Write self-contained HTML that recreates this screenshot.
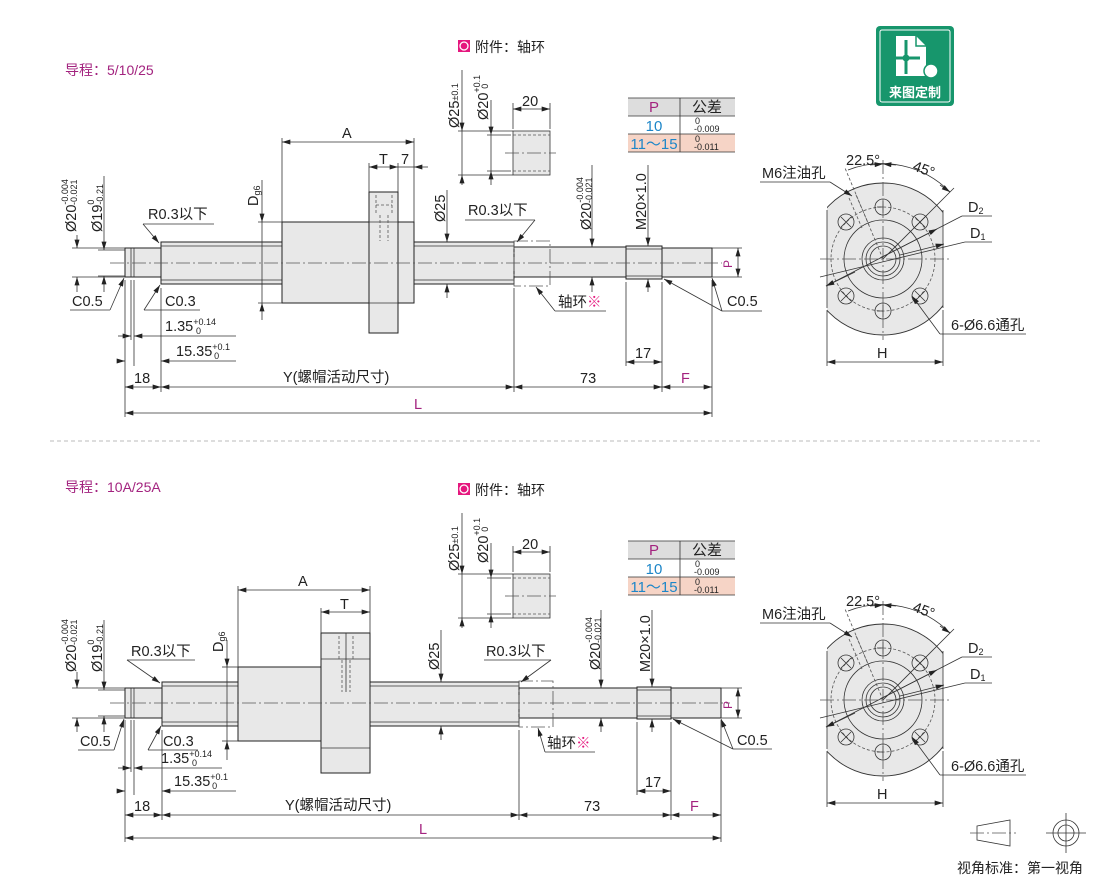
<!DOCTYPE html>
<html><head><meta charset="utf-8"><style>
html,body{margin:0;padding:0;background:#fff;}
svg{display:block;font-family:"Liberation Sans","Noto Sans CJK SC",sans-serif;}
.l{stroke:#333;stroke-width:0.8;fill:none}
.t{stroke:#222;stroke-width:1;fill:#e8e8e8}
.c{stroke:#555;stroke-width:0.8;fill:none;stroke-dasharray:14 3 2 3}
.d{stroke:#555;stroke-width:0.8;fill:none;stroke-dasharray:3 2}
text{font-size:14.5px;fill:#222}
.s{font-size:9px}
.pk{fill:#a3237f}
.bl{fill:#1d86c8}
</style></head><body>
<svg width="1110" height="880" viewBox="0 0 1110 880" xmlns="http://www.w3.org/2000/svg">
<defs>
<marker id="a" viewBox="0 0 10 6" refX="10" refY="3" markerWidth="9" markerHeight="5" orient="auto-start-reverse" markerUnits="userSpaceOnUse"><path d="M0,0L10,3L0,6z" fill="#222"/></marker>
</defs>

<text x="65" y="75" class="pk" style="font-size:14px">导程：5/10/25</text>
<text x="65" y="492" class="pk" style="font-size:14px">导程：10A/25A</text>
<line x1="50" y1="441" x2="1040" y2="441" stroke="#bbb" stroke-dasharray="4 3"/>

<rect x="876" y="26" width="78" height="80" rx="4" fill="#17966c"/>
<rect x="880" y="30" width="70" height="72" rx="2" fill="none" stroke="#fff" stroke-width="1"/>
<path d="M896,36 h20 l10,10 v30 h-30z" fill="#fff"/>
<path d="M916,36 v10 h10" fill="none" stroke="#17966c" stroke-width="1.5"/>
<line x1="906" y1="40" x2="906" y2="74" stroke="#17966c" stroke-width="3"/>
<line x1="896" y1="58" x2="920" y2="58" stroke="#17966c" stroke-width="3"/>
<circle cx="906" cy="58" r="3.5" fill="#17966c"/>
<circle cx="931" cy="71" r="7" fill="#fff" stroke="#17966c" stroke-width="1.5"/>
<text x="915" y="97" text-anchor="middle" style="font-size:13px;font-weight:bold;fill:#fff">来图定制</text>

<g id="acc">
<rect x="458" y="40" width="12" height="12" fill="#e5177e"/>
<circle cx="464" cy="46" r="4" fill="none" stroke="#fff" stroke-width="1.3"/>
<text x="475" y="52" style="font-size:14px">附件：轴环</text>
<rect x="513" y="131" width="37" height="44" fill="#e8e8e8" stroke="#333" stroke-width="0.8"/>
<line x1="513" y1="135" x2="550" y2="135" class="d"/><line x1="513" y1="171" x2="550" y2="171" class="d"/>
<line x1="505" y1="153" x2="556" y2="153" class="c"/>
<line x1="458" y1="131" x2="513" y2="131" class="l"/><line x1="458" y1="175" x2="513" y2="175" class="l"/>
<line x1="487" y1="135" x2="511" y2="135" class="l"/><line x1="487" y1="171" x2="511" y2="171" class="l"/>
<line x1="462" y1="70" x2="462" y2="131" class="l" marker-end="url(#a)"/><line x1="462" y1="185" x2="462" y2="175" class="l" marker-end="url(#a)"/><line x1="462" y1="131" x2="462" y2="175" class="l"/>
<line x1="491" y1="100" x2="491" y2="135" class="l" marker-end="url(#a)"/><line x1="491" y1="185" x2="491" y2="171" class="l" marker-end="url(#a)"/><line x1="491" y1="135" x2="491" y2="171" class="l"/>
<text transform="rotate(-90 459 128)" x="459" y="128">Ø25<tspan class="s" dy="-1">±0.1</tspan></text>
<text transform="rotate(-90 488 120)" x="488" y="120">Ø20<tspan class="s" dy="-8">+0.1</tspan><tspan class="s" dx="-14" dy="8">0</tspan></text>
<line x1="513" y1="103" x2="513" y2="129" class="l"/><line x1="550" y1="103" x2="550" y2="129" class="l"/>
<line x1="513" y1="109" x2="550" y2="109" class="l" marker-start="url(#a)" marker-end="url(#a)"/>
<text x="522" y="106">20</text>
<rect x="628" y="98" width="107" height="18" fill="#ddd"/>
<rect x="628" y="134" width="107" height="18" fill="#f6d4c6"/>
<line x1="628" y1="98" x2="735" y2="98" class="l"/><line x1="628" y1="116" x2="735" y2="116" class="l"/>
<line x1="628" y1="134" x2="735" y2="134" class="l"/><line x1="628" y1="152" x2="735" y2="152" class="l"/>
<line x1="680" y1="98" x2="680" y2="152" class="l"/>
<text x="654" y="112" text-anchor="middle" class="pk" style="font-size:15px">P</text>
<text x="707" y="112" text-anchor="middle" style="font-size:15px">公差</text>
<text x="654" y="131" text-anchor="middle" class="bl" style="font-size:15px">10</text>
<text x="654" y="149" text-anchor="middle" class="bl" style="font-size:15px">11～15</text>
<text x="695" y="124" class="s">0</text><text x="694" y="132" class="s">-0.009</text>
<text x="695" y="142" class="s">0</text><text x="694" y="150" class="s">-0.011</text>
</g>
<use href="#acc" transform="translate(0,443)"/>

<g id="fl">
<clipPath id="cp"><rect x="827" y="150" width="116" height="220"/></clipPath>
<circle cx="883" cy="259" r="76" fill="#e8e8e8" stroke="#333" stroke-width="0.9" clip-path="url(#cp)"/>
<line x1="827" y1="210" x2="827" y2="308" class="l"/><line x1="943" y1="210" x2="943" y2="308" class="l"/>
<circle cx="883" cy="259" r="52" class="d"/>
<circle cx="883" cy="259" r="39" class="l"/>
<circle cx="883" cy="259" r="21" class="l"/>
<circle cx="883" cy="259" r="17" class="l"/>
<circle cx="883" cy="259" r="13" class="l"/>
<g class="l">
<circle cx="883" cy="207" r="8"/><circle cx="883" cy="311" r="8"/>
<circle cx="846" cy="222" r="8"/><circle cx="920" cy="222" r="8"/>
<circle cx="846" cy="296" r="8"/><circle cx="920" cy="296" r="8"/>
<path d="M841,217l10,10M851,217l-10,10M915,217l10,10M925,217l-10,10M841,291l10,10M851,291l-10,10M915,291l10,10M925,291l-10,10"/>
<path d="M877,207h6M883,201v12M877,311h6M883,305v12"/>
</g>
<line x1="820" y1="259" x2="950" y2="259" class="c"/>
<line x1="883" y1="160" x2="883" y2="340" class="c"/>
<line x1="883" y1="259" x2="845" y2="168" class="d"/>
<line x1="849" y1="198" x2="862" y2="228" class="d"/><line x1="856" y1="195" x2="869" y2="225" class="d"/>
<line x1="883" y1="259" x2="954" y2="188" class="l"/>
<path d="M848,170 A95,95 0 0 1 950,192" class="l"/>
<line x1="870" y1="165" x2="883" y2="164" class="l" marker-end="url(#a)"/>
<line x1="896" y1="165" x2="883" y2="164" class="l" marker-end="url(#a)"/>
<line x1="940" y1="185" x2="950" y2="192" class="l" marker-end="url(#a)"/>
<text x="846" y="165">22.5°</text>
<text x="912" y="170" transform="rotate(20 912 170)">45°</text>
<text x="762" y="178">M6注油孔</text>
<line x1="760" y1="182" x2="830" y2="182" class="l"/>
<line x1="830" y1="182" x2="852" y2="196" class="l" marker-end="url(#a)"/>
<text x="968" y="212">D<tspan class="s" dy="2">2</tspan></text>
<line x1="962" y1="216" x2="992" y2="216" class="l"/>
<line x1="962" y1="216" x2="826" y2="286" class="l"/>
<line x1="880" y1="258" x2="937" y2="229" class="l" marker-end="url(#a)"/>
<line x1="855" y1="272" x2="826" y2="286" class="l" marker-end="url(#a)"/>
<text x="970" y="238">D<tspan class="s" dy="2">1</tspan></text>
<line x1="965" y1="242" x2="992" y2="242" class="l"/>
<line x1="965" y1="242" x2="820" y2="277" class="l"/>
<line x1="900" y1="255" x2="944" y2="244" class="l" marker-end="url(#a)"/>
<text x="951" y="330">6-Ø6.6通孔</text>
<line x1="940" y1="334" x2="1026" y2="334" class="l"/>
<line x1="940" y1="334" x2="912" y2="296" class="l" marker-end="url(#a)"/>
<line x1="827" y1="310" x2="827" y2="366" class="l"/><line x1="943" y1="310" x2="943" y2="366" class="l"/>
<line x1="827" y1="362" x2="943" y2="362" class="l" marker-start="url(#a)" marker-end="url(#a)"/>
<text x="877" y="358">H</text>
</g>
<use href="#fl" transform="translate(0,441)"/>

<g>
<rect x="125" y="248" width="36" height="29" class="t"/>
<line x1="131" y1="248" x2="131" y2="277" class="l"/><line x1="134" y1="248" x2="134" y2="277" class="l"/>
<rect x="161" y="242" width="353" height="42" class="t"/>
<line x1="161" y1="246" x2="514" y2="246" class="l"/><line x1="161" y1="280" x2="514" y2="280" class="l"/>
<rect x="282" y="222" width="132" height="81" class="t"/>
<rect x="369" y="192" width="29" height="141" class="t"/>
<line x1="369" y1="222" x2="398" y2="222" class="l"/><line x1="369" y1="303" x2="398" y2="303" class="l"/>
<path d="M376,195v20M392,195v20M380,215v26M388,215v26M376,205h16" class="d"/>
<rect x="514" y="247" width="112" height="30" class="t"/>
<rect x="514" y="241" width="36" height="45" class="c"/>
<rect x="626" y="246" width="36" height="33" class="t"/>
<line x1="626" y1="249" x2="662" y2="249" class="l"/><line x1="626" y1="276" x2="662" y2="276" class="l"/>
<rect x="662" y="248" width="50" height="29" class="t"/>
<line x1="110" y1="263" x2="722" y2="263" class="c"/>

<line x1="72" y1="248" x2="125" y2="248" class="l"/><line x1="72" y1="277" x2="125" y2="277" class="l"/>
<line x1="77" y1="235" x2="77" y2="248" class="l" marker-end="url(#a)"/><line x1="77" y1="292" x2="77" y2="277" class="l" marker-end="url(#a)"/>
<line x1="98" y1="250" x2="125" y2="250" class="l"/><line x1="98" y1="276" x2="125" y2="276" class="l"/>
<line x1="104" y1="176" x2="104" y2="250" class="l" marker-end="url(#a)"/><line x1="104" y1="292" x2="104" y2="276" class="l" marker-end="url(#a)"/>
<text transform="rotate(-90 76 232)" x="76" y="232">Ø20<tspan class="s" dy="-8">-0.004</tspan><tspan class="s" dx="-26" dy="9">-0.021</tspan></text>
<text transform="rotate(-90 102 232)" x="102" y="232">Ø19<tspan class="s" dy="-8">0</tspan><tspan class="s" dx="-5" dy="9">-0.21</tspan></text>

<line x1="258" y1="222" x2="282" y2="222" class="l"/><line x1="258" y1="303" x2="282" y2="303" class="l"/>
<line x1="262" y1="180" x2="262" y2="222" class="l" marker-end="url(#a)"/><line x1="262" y1="320" x2="262" y2="303" class="l" marker-end="url(#a)"/><line x1="262" y1="222" x2="262" y2="303" class="l"/>
<text transform="rotate(-90 258 206)" x="258" y="206">D<tspan class="s" dy="2">g6</tspan></text>
<line x1="282" y1="138" x2="282" y2="222" class="l"/><line x1="414" y1="138" x2="414" y2="222" class="l"/>
<line x1="282" y1="142" x2="414" y2="142" class="l" marker-start="url(#a)" marker-end="url(#a)"/>
<text x="342" y="138">A</text>
<line x1="369" y1="163" x2="369" y2="192" class="l"/><line x1="398" y1="163" x2="398" y2="192" class="l"/>
<line x1="369" y1="167" x2="398" y2="167" class="l" marker-start="url(#a)" marker-end="url(#a)"/>
<line x1="428" y1="167" x2="414" y2="167" class="l" marker-end="url(#a)"/><line x1="398" y1="167" x2="414" y2="167" class="l"/>
<text x="379" y="164">T</text><text x="401" y="164">7</text>
<line x1="447" y1="190" x2="447" y2="242" class="l" marker-end="url(#a)"/><line x1="447" y1="298" x2="447" y2="284" class="l" marker-end="url(#a)"/>
<text transform="rotate(-90 445 222)" x="445" y="222">Ø25</text>
<line x1="592" y1="165" x2="592" y2="247" class="l" marker-end="url(#a)"/><line x1="592" y1="292" x2="592" y2="277" class="l" marker-end="url(#a)"/>
<text transform="rotate(-90 591 230)" x="591" y="230">Ø20<tspan class="s" dy="-8">-0.004</tspan><tspan class="s" dx="-26" dy="9">-0.021</tspan></text>
<line x1="648" y1="165" x2="648" y2="246" class="l" marker-end="url(#a)"/><line x1="648" y1="292" x2="648" y2="279" class="l" marker-end="url(#a)"/>
<text transform="rotate(-90 646 230)" x="646" y="230">M20×1.0</text>
<line x1="712" y1="248" x2="742" y2="248" class="l"/><line x1="712" y1="277" x2="742" y2="277" class="l"/>
<line x1="738" y1="248" x2="738" y2="277" class="l" marker-start="url(#a)" marker-end="url(#a)"/>
<text transform="rotate(-90 732 268)" x="732" y="268" class="pk" style="font-size:12px">P</text>

<text x="148" y="219">R0.3以下</text><line x1="143" y1="224" x2="214" y2="224" class="l"/>
<line x1="143" y1="224" x2="159" y2="243" class="l" marker-end="url(#a)"/>
<text x="165" y="306">C0.3</text><line x1="144" y1="310" x2="200" y2="310" class="l"/>
<line x1="144" y1="310" x2="160" y2="285" class="l" marker-end="url(#a)"/>
<text x="72" y="306">C0.5</text><line x1="70" y1="310" x2="110" y2="310" class="l"/>
<line x1="110" y1="310" x2="124" y2="278" class="l" marker-end="url(#a)"/>
<text x="468" y="215">R0.3以下</text><line x1="465" y1="220" x2="535" y2="220" class="l"/>
<line x1="535" y1="220" x2="517" y2="242" class="l" marker-end="url(#a)"/>
<text x="558" y="307">轴环<tspan fill="#e5177e">※</tspan></text><line x1="555" y1="311" x2="606" y2="311" class="l"/>
<line x1="555" y1="311" x2="536" y2="287" class="l" marker-end="url(#a)"/>
<text x="727" y="306">C0.5</text><line x1="722" y1="311" x2="762" y2="311" class="l"/>
<line x1="722" y1="311" x2="664" y2="279" class="l" marker-end="url(#a)"/>
<line x1="722" y1="311" x2="712" y2="278" class="l" marker-end="url(#a)"/>

<line x1="125" y1="280" x2="125" y2="417" class="l"/>
<line x1="131" y1="280" x2="131" y2="340" class="l"/><line x1="134" y1="280" x2="134" y2="340" class="l"/>
<line x1="161" y1="288" x2="161" y2="392" class="l"/>
<line x1="514" y1="288" x2="514" y2="392" class="l"/>
<line x1="626" y1="282" x2="626" y2="366" class="l"/>
<line x1="662" y1="282" x2="662" y2="392" class="l"/>
<line x1="712" y1="280" x2="712" y2="417" class="l"/>
<line x1="118" y1="336" x2="131" y2="336" class="l" marker-end="url(#a)"/>
<line x1="236" y1="336" x2="134" y2="336" class="l" marker-end="url(#a)"/>
<text x="165" y="331">1.35<tspan class="s" dy="-6">+0.14</tspan><tspan class="s" dx="-20" dy="9">0</tspan></text>
<line x1="118" y1="361" x2="125" y2="361" class="l" marker-end="url(#a)"/>
<line x1="236" y1="361" x2="161" y2="361" class="l" marker-end="url(#a)"/>
<line x1="134" y1="340" x2="134" y2="366" class="l"/>
<text x="176" y="356">15.35<tspan class="s" dy="-6">+0.1</tspan><tspan class="s" dx="-16" dy="9">0</tspan></text>
<line x1="125" y1="387" x2="161" y2="387" class="l" marker-start="url(#a)" marker-end="url(#a)"/>
<text x="134" y="383">18</text>
<line x1="161" y1="387" x2="514" y2="387" class="l" marker-start="url(#a)" marker-end="url(#a)"/>
<text x="283" y="382">Y(螺帽活动尺寸)</text>
<line x1="514" y1="387" x2="662" y2="387" class="l" marker-start="url(#a)" marker-end="url(#a)"/>
<text x="580" y="383">73</text>
<line x1="662" y1="387" x2="712" y2="387" class="l" marker-start="url(#a)" marker-end="url(#a)"/>
<text x="681" y="383" class="pk">F</text>
<line x1="626" y1="362" x2="662" y2="362" class="l" marker-start="url(#a)" marker-end="url(#a)"/>
<text x="635" y="358">17</text>
<line x1="125" y1="413" x2="712" y2="413" class="l" marker-start="url(#a)" marker-end="url(#a)"/>
<text x="414" y="409" class="pk">L</text>
</g>

<g>
<rect x="125" y="688" width="37" height="30" class="t"/>
<line x1="131" y1="688" x2="131" y2="718" class="l"/><line x1="134" y1="688" x2="134" y2="718" class="l"/>
<rect x="162" y="682" width="357" height="44" class="t"/>
<line x1="162" y1="686" x2="519" y2="686" class="l"/><line x1="162" y1="722" x2="519" y2="722" class="l"/>
<rect x="238" y="667" width="83" height="74" class="t"/>
<rect x="321" y="633" width="49" height="140" class="t"/>
<line x1="321" y1="659" x2="370" y2="659" class="l"/><line x1="321" y1="748" x2="370" y2="748" class="l"/>
<path d="M339,636v24M353,636v24M342,660v32M350,660v32" class="d"/>
<line x1="346" y1="633" x2="346" y2="692" class="l"/>
<rect x="519" y="688" width="118" height="30" class="t"/>
<rect x="519" y="681" width="34" height="46" class="c"/>
<rect x="637" y="687" width="34" height="32" class="t"/>
<line x1="637" y1="690" x2="671" y2="690" class="l"/><line x1="637" y1="716" x2="671" y2="716" class="l"/>
<rect x="671" y="688" width="50" height="30" class="t"/>
<line x1="110" y1="703" x2="730" y2="703" class="c"/>

<line x1="72" y1="688" x2="125" y2="688" class="l"/><line x1="72" y1="718" x2="125" y2="718" class="l"/>
<line x1="77" y1="672" x2="77" y2="688" class="l" marker-end="url(#a)"/><line x1="77" y1="732" x2="77" y2="718" class="l" marker-end="url(#a)"/>
<line x1="98" y1="690" x2="125" y2="690" class="l"/><line x1="98" y1="716" x2="125" y2="716" class="l"/>
<line x1="104" y1="620" x2="104" y2="690" class="l" marker-end="url(#a)"/><line x1="104" y1="732" x2="104" y2="716" class="l" marker-end="url(#a)"/>
<text transform="rotate(-90 76 672)" x="76" y="672">Ø20<tspan class="s" dy="-8">-0.004</tspan><tspan class="s" dx="-26" dy="9">-0.021</tspan></text>
<text transform="rotate(-90 102 672)" x="102" y="672">Ø19<tspan class="s" dy="-8">0</tspan><tspan class="s" dx="-5" dy="9">-0.21</tspan></text>

<line x1="222" y1="667" x2="238" y2="667" class="l"/><line x1="222" y1="741" x2="238" y2="741" class="l"/>
<line x1="227" y1="640" x2="227" y2="667" class="l" marker-end="url(#a)"/><line x1="227" y1="760" x2="227" y2="741" class="l" marker-end="url(#a)"/><line x1="227" y1="667" x2="227" y2="741" class="l"/>
<text transform="rotate(-90 223 652)" x="223" y="652">D<tspan class="s" dy="2">g6</tspan></text>
<line x1="238" y1="586" x2="238" y2="667" class="l"/><line x1="370" y1="586" x2="370" y2="633" class="l"/>
<line x1="238" y1="590" x2="370" y2="590" class="l" marker-start="url(#a)" marker-end="url(#a)"/>
<text x="298" y="586">A</text>
<line x1="321" y1="608" x2="321" y2="633" class="l"/>
<line x1="321" y1="612" x2="370" y2="612" class="l" marker-start="url(#a)" marker-end="url(#a)"/>
<text x="340" y="609">T</text>
<line x1="441" y1="630" x2="441" y2="682" class="l" marker-end="url(#a)"/><line x1="441" y1="740" x2="441" y2="726" class="l" marker-end="url(#a)"/>
<text transform="rotate(-90 439 670)" x="439" y="670">Ø25</text>
<line x1="601" y1="610" x2="601" y2="688" class="l" marker-end="url(#a)"/><line x1="601" y1="732" x2="601" y2="718" class="l" marker-end="url(#a)"/>
<text transform="rotate(-90 600 670)" x="600" y="670">Ø20<tspan class="s" dy="-8">-0.004</tspan><tspan class="s" dx="-26" dy="9">-0.021</tspan></text>
<line x1="652" y1="610" x2="652" y2="687" class="l" marker-end="url(#a)"/><line x1="652" y1="732" x2="652" y2="719" class="l" marker-end="url(#a)"/>
<text transform="rotate(-90 650 672)" x="650" y="672">M20×1.0</text>
<line x1="721" y1="688" x2="742" y2="688" class="l"/><line x1="721" y1="718" x2="742" y2="718" class="l"/>
<line x1="738" y1="688" x2="738" y2="718" class="l" marker-start="url(#a)" marker-end="url(#a)"/>
<text transform="rotate(-90 732 709)" x="732" y="709" class="pk" style="font-size:12px">P</text>

<text x="131" y="656">R0.3以下</text><line x1="127" y1="660" x2="195" y2="660" class="l"/>
<line x1="127" y1="660" x2="160" y2="683" class="l" marker-end="url(#a)"/>
<text x="163" y="746">C0.3</text><line x1="148" y1="750" x2="198" y2="750" class="l"/>
<line x1="148" y1="750" x2="161" y2="726" class="l" marker-end="url(#a)"/>
<text x="80" y="746">C0.5</text><line x1="78" y1="750" x2="114" y2="750" class="l"/>
<line x1="114" y1="750" x2="124" y2="719" class="l" marker-end="url(#a)"/>
<text x="486" y="656">R0.3以下</text><line x1="484" y1="660" x2="551" y2="660" class="l"/>
<line x1="551" y1="660" x2="521" y2="682" class="l" marker-end="url(#a)"/>
<text x="547" y="748">轴环<tspan fill="#e5177e">※</tspan></text><line x1="545" y1="752" x2="595" y2="752" class="l"/>
<line x1="545" y1="752" x2="538" y2="728" class="l" marker-end="url(#a)"/>
<text x="737" y="745">C0.5</text><line x1="733" y1="749" x2="772" y2="749" class="l"/>
<line x1="733" y1="749" x2="673" y2="719" class="l" marker-end="url(#a)"/>
<line x1="733" y1="749" x2="721" y2="719" class="l" marker-end="url(#a)"/>

<line x1="125" y1="720" x2="125" y2="842" class="l"/>
<line x1="131" y1="720" x2="131" y2="772" class="l"/><line x1="134" y1="720" x2="134" y2="795" class="l"/>
<line x1="162" y1="730" x2="162" y2="820" class="l"/>
<line x1="519" y1="730" x2="519" y2="820" class="l"/>
<line x1="637" y1="722" x2="637" y2="795" class="l"/>
<line x1="671" y1="722" x2="671" y2="820" class="l"/>
<line x1="721" y1="720" x2="721" y2="842" class="l"/>
<line x1="118" y1="768" x2="131" y2="768" class="l" marker-end="url(#a)"/>
<line x1="222" y1="768" x2="134" y2="768" class="l" marker-end="url(#a)"/>
<text x="161" y="763">1.35<tspan class="s" dy="-6">+0.14</tspan><tspan class="s" dx="-20" dy="9">0</tspan></text>
<line x1="118" y1="791" x2="125" y2="791" class="l" marker-end="url(#a)"/>
<line x1="236" y1="791" x2="162" y2="791" class="l" marker-end="url(#a)"/>
<text x="174" y="786">15.35<tspan class="s" dy="-6">+0.1</tspan><tspan class="s" dx="-16" dy="9">0</tspan></text>
<line x1="125" y1="815" x2="162" y2="815" class="l" marker-start="url(#a)" marker-end="url(#a)"/>
<text x="134" y="811">18</text>
<line x1="162" y1="815" x2="519" y2="815" class="l" marker-start="url(#a)" marker-end="url(#a)"/>
<text x="285" y="810">Y(螺帽活动尺寸)</text>
<line x1="519" y1="815" x2="671" y2="815" class="l" marker-start="url(#a)" marker-end="url(#a)"/>
<text x="584" y="811">73</text>
<line x1="671" y1="815" x2="721" y2="815" class="l" marker-start="url(#a)" marker-end="url(#a)"/>
<text x="690" y="811" class="pk">F</text>
<line x1="637" y1="791" x2="671" y2="791" class="l" marker-start="url(#a)" marker-end="url(#a)"/>
<text x="645" y="787">17</text>
<line x1="125" y1="838" x2="721" y2="838" class="l" marker-start="url(#a)" marker-end="url(#a)"/>
<text x="419" y="834" class="pk">L</text>
</g>

<path d="M977,826 L1010,820 L1010,846 L977,840 Z" class="l"/>
<line x1="970" y1="833" x2="1016" y2="833" class="c"/>
<circle cx="1066" cy="833" r="13" class="l"/><circle cx="1066" cy="833" r="8" class="l"/>
<line x1="1046" y1="833" x2="1086" y2="833" class="l"/><line x1="1066" y1="813" x2="1066" y2="853" class="l"/>
<text x="957" y="873" style="font-size:14px">视角标准：第一视角</text>
</svg>
</body></html>
